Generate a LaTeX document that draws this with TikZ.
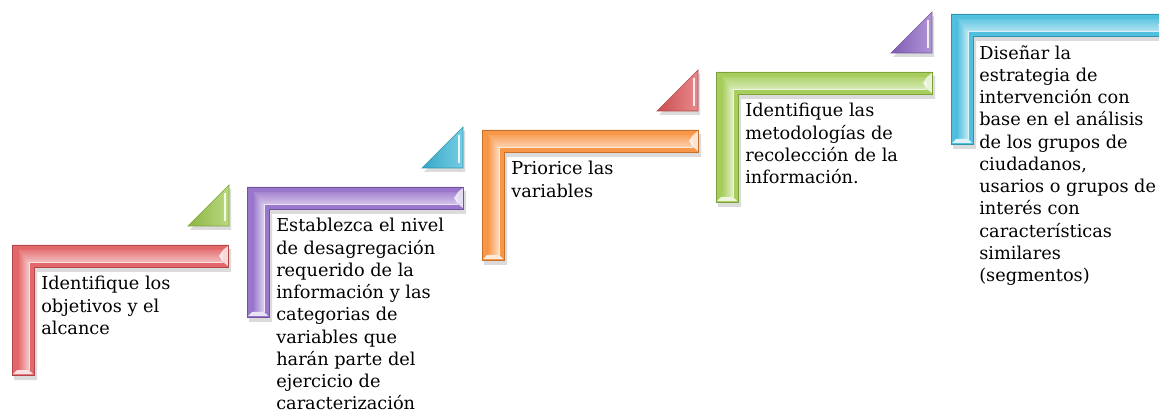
\documentclass[tikz,border=0pt]{standalone}
\usepackage{fontspec}
\setmainfont{DejaVu Serif}

\definecolor{stepred}{HTML}{E0575A}
\definecolor{steppurple}{HTML}{8F68C6}
\definecolor{steporange}{HTML}{F78C34}
\definecolor{stepgreen}{HTML}{9DC94A}
\definecolor{stepcyan}{HTML}{3CB9DA}

\tikzset{
  steptext/.style={anchor=north west, inner sep=0pt, align=left,
    font=\fontsize{13.3}{16.7}\selectfont, text=black},
}

% glossy L piece, top left corner at (#1,#2)
\newcommand{\stairL}[3]{
  \begin{scope}[shift={(#1,#2)}]
    \fill[black, opacity=0.14] (2,4) -- (219,4) -- (219,27) -- (25,27) -- (25,135) -- (2,135) -- cycle;
    \fill[#3!90!white] (0,0) -- (216,0) -- (216,22) -- (22,22) -- (22,130) -- (0,130) -- cycle;
    \shade[top color=#3!80!white, bottom color=#3!40!white] (5,5) -- (211,5) -- (211,17) -- (17,17) -- cycle;
    \shade[left color=#3!95!white, right color=#3!30!white] (5,5) -- (17,17) -- (17,125) -- (5,125) -- cycle;
    \fill[white, opacity=0.75] (211,5) -- (216,1) -- (216,21) -- (211,17) -- (207,11) -- cycle;
    \fill[white, opacity=0.8] (5,125) -- (17,125) -- (21,129) -- (1,129) -- cycle;
    \draw[white, opacity=0.8, line width=1.2] (211,17.5) -- (17.5,17.5) -- (17.5,125);
    \draw[#3!80!black, line width=0.6] (0,0) -- (216,0) -- (216,22) -- (22,22) -- (22,130) -- (0,130) -- cycle;
  \end{scope}
}

% small corner triangle, right bottom corner at (#1,#2)
\newcommand{\stairT}[3]{
  \begin{scope}[shift={(#1,#2)}]
    \fill[black, opacity=0.14] (-39,4) -- (2,4) -- (2,-38) -- cycle;
    \shade[left color=#3!90!black, right color=#3!70!white] (-41,0) -- (0,0) -- (0,-41) -- cycle;
    \draw[white, opacity=0.85, line width=1.1] (-4,-5) -- (-4,-33);
    \draw[#3!80!black, line width=0.5] (-41,0) -- (0,0) -- (0,-41) -- cycle;
  \end{scope}
}

\begin{document}
\begin{tikzpicture}[x=0.75pt, y=-0.75pt]
  \useasboundingbox (0,0) rectangle (1159,416);
  \clip (0,0) rectangle (1159,416);

  % steps
  \stairL{12}{245}{stepred}
  \stairL{247}{187}{steppurple}
  \stairL{482}{130}{steporange}
  \stairL{716}{72}{stepgreen}
  \stairL{951}{14}{stepcyan}

  % corner triangles
  \stairT{229}{226}{stepgreen}
  \stairT{463}{168}{stepcyan}
  \stairT{698}{111}{stepred}
  \stairT{932}{53}{steppurple}

  % texts
  \node[steptext] (t1) at (41,276) {Identifique los\\objetivos y el\\alcance};
  \node[steptext] (t2) at (276,218) {Establezca el nivel\\de desagregación\\requerido de la\\información y las\\categorias de\\variables que\\harán parte del\\ejercicio de\\caracterización};
  \node[steptext] (t3) at (511,161) {Priorice las\\variables};
  \node[steptext] (t4) at (745,103) {Identifique las\\metodologías de\\recolección de la\\información.};
  \node[steptext] (t5) at (979,45) {Diseñar la\\estrategia de\\intervención con\\base en el análisis\\de los grupos de\\ciudadanos,\\usarios o grupos de\\interés con\\características\\similares\\(segmentos)};
\end{tikzpicture}
\end{document}
